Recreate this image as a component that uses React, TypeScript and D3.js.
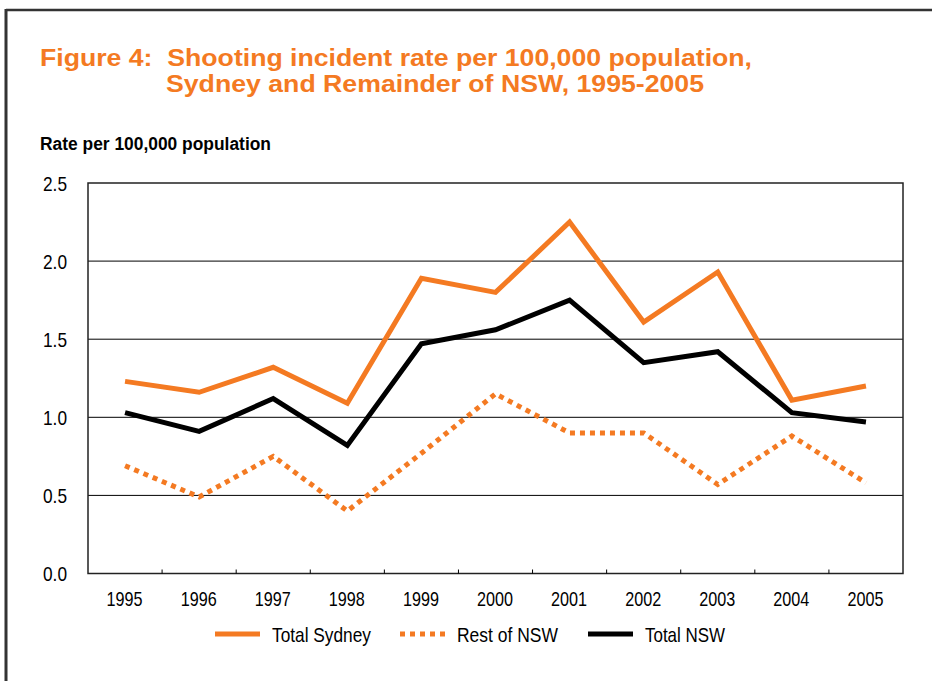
import * as d3 from 'd3';

const years = ['1995', '1996', '1997', '1998', '1999', '2000', '2001', '2002', '2003', '2004', '2005'];
const totalSydney = [1.23, 1.16, 1.32, 1.09, 1.89, 1.80, 2.25, 1.61, 1.93, 1.11, 1.20];
const restOfNsw = [0.69, 0.49, 0.75, 0.40, 0.77, 1.15, 0.90, 0.90, 0.57, 0.88, 0.58];
const totalNsw = [1.03, 0.91, 1.12, 0.82, 1.47, 1.56, 1.75, 1.35, 1.42, 1.03, 0.97];
const yTicks = [0, 0.5, 1.0, 1.5, 2.0, 2.5];

const ORANGE = '#F47A22';
const sans = "'Liberation Sans', Arial, sans-serif";

export default function App() {
    const width = 932;
    const height = 681;
    const left = 88;
    const right = 903;
    const top = 183;
    const bottom = 573.5;

    const x = d3.scaleBand().domain(years).range([left, right]);
    const y = d3.scaleLinear().domain([0, 2.5]).range([bottom, top]);

    const line = d3.line<number>()
        .x((_, i) => (x(years[i]) || 0) + x.bandwidth() / 2)
        .y(d => y(d));

    const series = [
        { label: 'Total Sydney', values: totalSydney, color: ORANGE, dash: undefined, w: 99 },
        { label: 'Rest of NSW', values: restOfNsw, color: ORANGE, dash: '5,5', w: 101 },
        { label: 'Total NSW', values: totalNsw, color: '#000', dash: undefined, w: 80 },
    ];
    const legendX = [215, 400, 588];

    return (
        <svg width={width} height={height} style={{ position: 'absolute', left: 0, top: 0, background: '#fff' }}>
            {/* outer frame: top and left only */}
            <line x1={6} x2={width} y1={10} y2={10} stroke="#333" strokeWidth={2.5} />
            <line x1={6} x2={6} y1={9} y2={height} stroke="#333" strokeWidth={3} />

            <g fill={ORANGE} fontFamily={sans} fontWeight="bold" fontSize={24}>
                <text x={40} y={66} textLength={712} lengthAdjust="spacingAndGlyphs" style={{ whiteSpace: 'pre' }}>
                    {'Figure 4:  Shooting incident rate per 100,000 population,'}
                </text>
                <text x={166} y={92} textLength={538} lengthAdjust="spacingAndGlyphs">
                    Sydney and Remainder of NSW, 1995-2005
                </text>
            </g>

            <text x={40} y={150} fontFamily={sans} fontWeight="bold" fontSize={18} textLength={231} lengthAdjust="spacingAndGlyphs">
                Rate per 100,000 population
            </text>

            {/* gridlines */}
            {yTicks.filter(t => t > 0 && t < 2.5).map(t => (
                <line key={t} x1={left} x2={right} y1={y(t)} y2={y(t)} stroke="#000" strokeWidth={1} />
            ))}

            {/* plot frame */}
            <rect x={left} y={top} width={right - left} height={bottom - top} fill="none" stroke="#222" strokeWidth={1.5} />

            {/* x ticks at band edges */}
            {years.slice(1).map(yr => (
                <line key={yr} x1={x(yr)} x2={x(yr)} y1={bottom} y2={bottom - 4} stroke="#000" strokeWidth={1} />
            ))}

            {/* y tick labels */}
            {yTicks.map(t => (
                <text key={t} x={43} y={y(t) + 7.5} fontFamily={sans} fontSize={21} textLength={24} lengthAdjust="spacingAndGlyphs">
                    {t.toFixed(1)}
                </text>
            ))}

            {/* x labels */}
            {years.map(yr => (
                <text key={yr} x={(x(yr) || 0) + x.bandwidth() / 2 - 18.5} y={606} fontFamily={sans} fontSize={21}
                    textLength={36} lengthAdjust="spacingAndGlyphs">
                    {yr}
                </text>
            ))}

            {/* series */}
            {series.map(s => (
                <path key={s.label} d={line(s.values) || ''} fill="none" stroke={s.color} strokeWidth={5}
                    strokeDasharray={s.dash} strokeLinejoin="miter" />
            ))}

            {/* legend */}
            {series.map((s, i) => (
                <g key={s.label} transform={`translate(${legendX[i]},634)`}>
                    <line x1={0} x2={45} y1={0} y2={0} stroke={s.color} strokeWidth={5} strokeDasharray={s.dash} />
                    <text x={57} y={7.5} fontFamily={sans} fontSize={21} textLength={s.w} lengthAdjust="spacingAndGlyphs">
                        {s.label}
                    </text>
                </g>
            ))}
        </svg>
    );
}
